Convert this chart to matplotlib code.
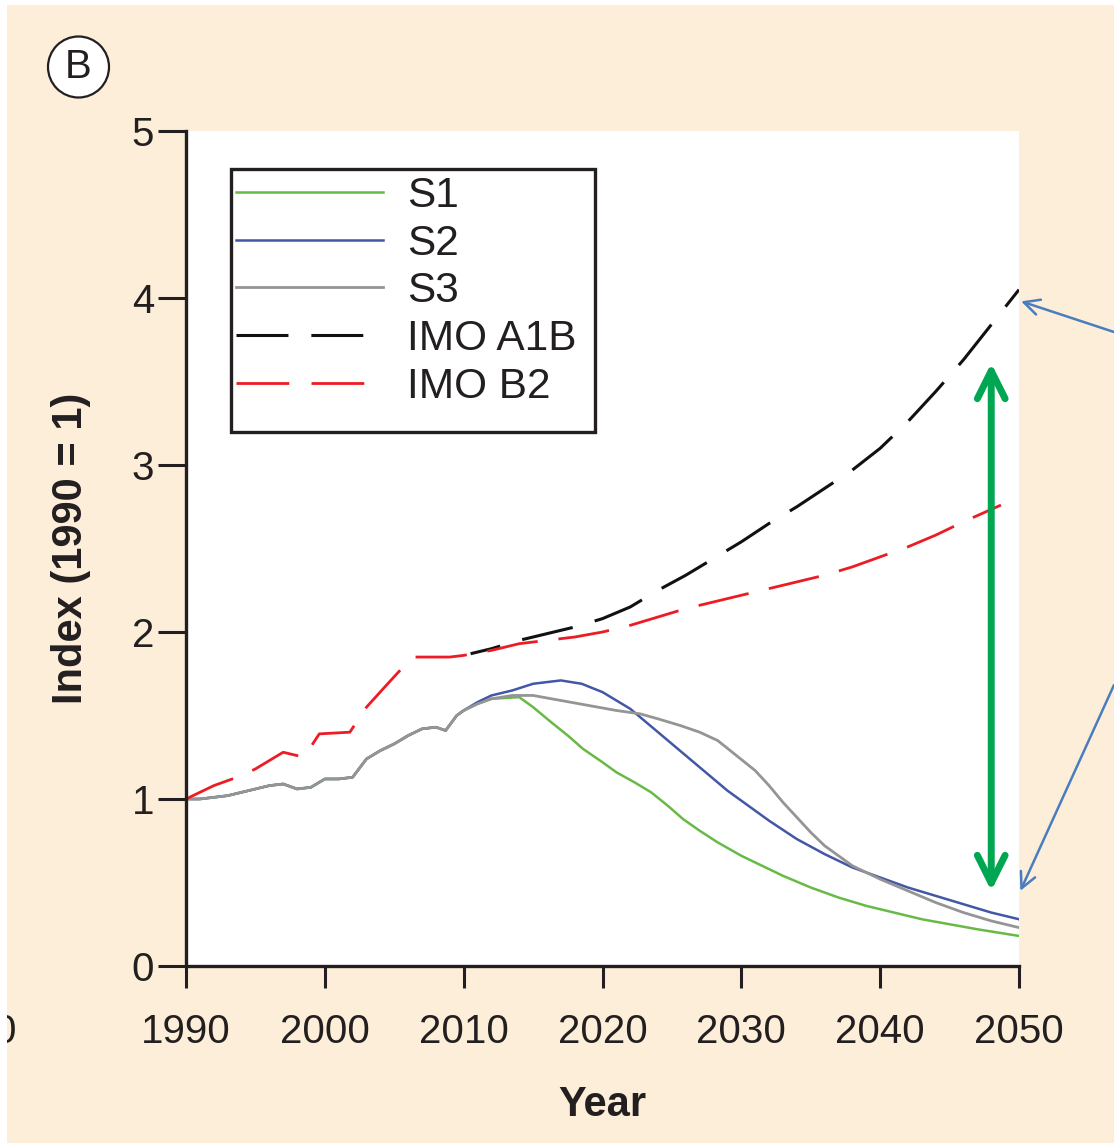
import matplotlib
matplotlib.use('Agg')
import matplotlib.pyplot as plt
from matplotlib.patches import Circle, Rectangle

plt.rcParams['font.family'] = ['Liberation Sans', 'DejaVu Sans']

# observed history shared by S1-S3
hist_years = [1990, 1991, 1992, 1993, 1994, 1995, 1996, 1997, 1998, 1999, 2000,
              2001, 2002, 2003, 2004, 2005, 2006, 2007, 2008, 2008.7, 2009.5, 2010]
hist_index = [1.00, 1.00, 1.01, 1.02, 1.04, 1.06, 1.08, 1.09, 1.06, 1.07, 1.12,
              1.12, 1.13, 1.24, 1.29, 1.33, 1.38, 1.42, 1.43, 1.41, 1.50, 1.53]

s1_years = [2011, 2012, 2014, 2015, 2016.3, 2017.5, 2018.6, 2020, 2021, 2022.3, 2023.5,
            2024.7, 2025.8, 2027, 2028.3, 2030, 2031.5, 2033, 2035, 2037, 2039, 2041,
            2043, 2045, 2047, 2050]
s1_index = [1.57, 1.60, 1.61, 1.55, 1.46, 1.38, 1.30, 1.22, 1.16, 1.10, 1.04,
            0.96, 0.88, 0.81, 0.74, 0.66, 0.60, 0.54, 0.47, 0.41, 0.36, 0.32,
            0.28, 0.25, 0.22, 0.18]

s2_years = [2011, 2012, 2013.5, 2015, 2017, 2018.5, 2020, 2021, 2022, 2023, 2024, 2025,
            2026, 2027, 2028, 2029, 2030, 2032, 2034, 2036, 2038, 2040, 2042, 2044,
            2046, 2048, 2050]
s2_index = [1.58, 1.62, 1.65, 1.69, 1.71, 1.69, 1.64, 1.59, 1.54, 1.47, 1.40, 1.33,
            1.26, 1.19, 1.12, 1.05, 0.99, 0.87, 0.76, 0.67, 0.59, 0.53, 0.47, 0.42,
            0.37, 0.32, 0.28]

s3_years = [2011, 2012, 2013.5, 2015, 2017, 2019, 2021, 2022.7, 2024, 2025.6, 2027,
            2028.3, 2029.5, 2031, 2032, 2033, 2034, 2035, 2036, 2037, 2038, 2040,
            2042, 2044, 2046, 2048, 2050]
s3_index = [1.57, 1.60, 1.62, 1.62, 1.59, 1.56, 1.53, 1.51, 1.48, 1.44, 1.40,
            1.35, 1.27, 1.17, 1.08, 0.98, 0.89, 0.80, 0.72, 0.66, 0.60, 0.52,
            0.45, 0.38, 0.32, 0.27, 0.23]

b2_years = [1990, 1991, 1992, 1993, 1994, 1995, 1996, 1997, 1998.5, 1999.6, 2001.8,
            2003, 2004.2, 2005.3, 2006.4, 2009, 2010, 2012, 2014, 2016, 2018, 2020,
            2022, 2024, 2026, 2028, 2030, 2032, 2034, 2036, 2038, 2040, 2042, 2044,
            2046, 2048.7]
b2_index = [1.00, 1.04, 1.08, 1.11, 1.14, 1.18, 1.23, 1.28, 1.25, 1.39, 1.40,
            1.55, 1.66, 1.76, 1.85, 1.85, 1.86, 1.89, 1.93, 1.95, 1.97, 2.00,
            2.04, 2.09, 2.14, 2.18, 2.22, 2.26, 2.30, 2.34, 2.39, 2.45, 2.51, 2.58,
            2.66, 2.76]

a1b_years = [2010.5, 2012, 2014, 2016, 2018, 2020, 2022, 2024, 2026, 2028, 2030,
             2032, 2034, 2036, 2038, 2040, 2042, 2044, 2046, 2048, 2050]
a1b_index = [1.87, 1.90, 1.95, 1.99, 2.03, 2.08, 2.15, 2.25, 2.34, 2.44, 2.54,
             2.65, 2.75, 2.86, 2.97, 3.10, 3.26, 3.44, 3.63, 3.84, 4.05]

x_ticks = [1990, 2000, 2010, 2020, 2030, 2040, 2050]
y_ticks = [0, 1, 2, 3, 4, 5]

# gap between paths marked by the green arrow
gap_year = 2048
gap_top = 3.61
gap_bottom = 0.45

cream = '#FCEED9'
ink = '#231F20'
a1b_dash = (17, 7.5)
b2_dash = (18.5, 7.5)

W, H = 1114, 1143
fig = plt.figure(figsize=(W / 100, H / 100), dpi=100, facecolor=cream)
ax = fig.add_axes([186 / W, (H - 966) / H, (1019 - 186) / W, (966 - 131) / H])
ax.set_facecolor('white')
aw, ah = 1019 - 186, 966 - 131

ax.plot(hist_years + s1_years, hist_index + s1_index, color='#67BA46', lw=1.8, label='S1')
ax.plot(hist_years + s2_years, hist_index + s2_index, color='#4357A6', lw=1.8, label='S2')
ax.plot(hist_years + s3_years, hist_index + s3_index, color='#959595', lw=2.0, label='S3')
ax.plot(a1b_years, a1b_index, color='#111111', lw=2.2, linestyle=(7, a1b_dash), label='IMO A1B')
ax.plot(b2_years, b2_index, color='#ED1C24', lw=2.0, linestyle=(0, b2_dash), label='IMO B2')

ax.set_xlim(1990, 2050)
ax.set_ylim(0, 5)
ax.set_xticks(x_ticks)
ax.set_xticklabels([str(t) for t in x_ticks])
ax.set_yticks(y_ticks)
ax.set_yticklabels([str(t) for t in y_ticks])
for s in ['top', 'right']:
    ax.spines[s].set_visible(False)
for s in ['left', 'bottom']:
    ax.spines[s].set_linewidth(2.4)
    ax.spines[s].set_color(ink)
ax.tick_params(axis='y', length=20, width=2.2, color=ink, labelsize=29, labelcolor=ink, pad=3)
ax.tick_params(axis='x', length=16, width=2.2, color=ink, labelsize=29, labelcolor=ink, pad=18)

ax.set_xlabel('Year', fontsize=30, fontweight='bold', color=ink, labelpad=24)
ax.set_ylabel('Index (1990 = 1)', fontsize=30, fontweight='bold', color=ink, labelpad=29)

# legend box drawn separately so the padding can be uneven like the original
ax.add_patch(Rectangle(((231 - 186) / aw, (966 - 432) / ah), 364 / aw, 263 / ah,
                       transform=ax.transAxes, facecolor='white', edgecolor=ink,
                       lw=2.4, zorder=4))
leg = ax.legend(loc='upper left', bbox_to_anchor=((236 - 186) / aw, (966 - 176) / ah),
                borderaxespad=0, borderpad=0, frameon=False,
                fontsize=30.5, handlelength=3.47, handletextpad=0.57, labelspacing=0.18)
leg.set_zorder(5)
for t in leg.get_texts():
    t.set_color(ink)
handles = leg.get_lines()
handles[3].set_dashes(a1b_dash)
handles[4].set_dashes((19, 8))

# green double arrow
ax.annotate('', xy=(gap_year, gap_top), xytext=(gap_year, gap_bottom),
            arrowprops=dict(arrowstyle='<->', color='#00A651', lw=5,
                            mutation_scale=50, shrinkA=0, shrinkB=0))

# blue pointer arrows coming from outside the panel
ax.annotate('', xy=(2050.15, 3.98), xycoords='data',
            xytext=(1.0, (H - 332) / H), textcoords='figure fraction',
            arrowprops=dict(arrowstyle='->', color='#4A7DBF', lw=1.8,
                            mutation_scale=28, shrinkA=0, shrinkB=0),
            annotation_clip=False)
ax.annotate('', xy=(2050.1, 0.45), xycoords='data',
            xytext=(1.0, (H - 685) / H), textcoords='figure fraction',
            arrowprops=dict(arrowstyle='->', color='#4A7DBF', lw=1.8,
                            mutation_scale=28, shrinkA=0, shrinkB=0),
            annotation_clip=False)

# panel badge
fig.add_artist(Circle((0.785, (H - 67) / 100), 0.305, transform=fig.dpi_scale_trans,
                      facecolor='white', edgecolor=ink, lw=1.6))
fig.text(0.785, (H - 67) / 100, 'B', transform=fig.dpi_scale_trans, fontsize=29,
         ha='center', va='center', color=ink)

# cut-off tick label from neighbouring panel
fig.text(16 / W, (H - 1032) / H, '0', fontsize=29, ha='right', va='center', color=ink)

# white page margins on top and left
fig.add_artist(Rectangle((0, 0), 7 / W, 1, transform=fig.transFigure,
                         facecolor='white', edgecolor='none', zorder=10))
fig.add_artist(Rectangle((0, 1 - 5 / H), 1, 5 / H, transform=fig.transFigure,
                         facecolor='white', edgecolor='none', zorder=10))

fig.savefig('out.png', dpi=100, facecolor=cream)
